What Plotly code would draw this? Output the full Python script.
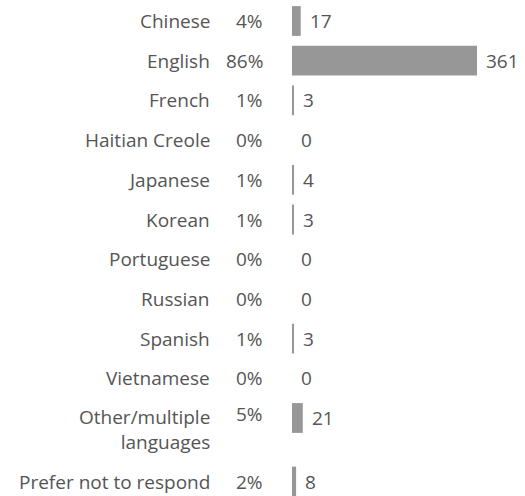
import plotly.graph_objects as go

# Survey responses by language
languages = [
    "Chinese", "English", "French", "Haitian Creole", "Japanese", "Korean",
    "Portuguese", "Russian", "Spanish", "Vietnamese",
    "Other/multiple<br>languages", "Prefer not to respond",
]
counts = [17, 361, 3, 0, 4, 3, 0, 0, 3, 0, 21, 8]
percents = ["4%", "86%", "1%", "0%", "1%", "1%", "0%", "0%", "1%", "0%", "5%", "2%"]

TEXT_COLOR = "#555555"
BAR_COLOR = "#979797"
FONT = "Open Sans"
FONT_SIZE = 19

# row centres: a two-line label pushes the following row further down
rows = []
pos = 0.0
for lang in languages:
    rows.append(pos)
    pos += 1.6 if "<br>" in lang else 1.0

fig = go.Figure(
    go.Bar(
        x=counts,
        y=rows,
        orientation="h",
        marker=dict(color=BAR_COLOR, line=dict(width=0)),
        width=0.75,
        hoverinfo="skip",
    )
)

annotations = []
for y, lang, pct, n in zip(rows, languages, percents, counts):
    # category name, right-aligned
    annotations.append(dict(
        x=0, xref="paper", y=y, yref="y", text=lang, showarrow=False,
        xanchor="right", yanchor="middle", align="right", xshift=-80,
        yshift=-12 if "<br>" in lang else 0,
        font=dict(family=FONT, size=FONT_SIZE, color=TEXT_COLOR),
    ))
    # share of respondents
    annotations.append(dict(
        x=0, xref="paper", y=y, yref="y", text=pct, showarrow=False,
        xanchor="right", yanchor="middle", xshift=-27,
        yshift=4 if "<br>" in lang else 0,
        font=dict(family=FONT, size=FONT_SIZE, color=TEXT_COLOR),
    ))
    # respondent count at the end of the bar
    annotations.append(dict(
        x=n, xref="x", y=y, yref="y", text=str(n), showarrow=False,
        xanchor="left", yanchor="middle", xshift=7,
        font=dict(family=FONT, size=FONT_SIZE, color=TEXT_COLOR),
    ))

fig.update_layout(
    width=525,
    height=496,
    margin=dict(l=292, r=48, t=0, b=0),
    paper_bgcolor="white",
    plot_bgcolor="white",
    showlegend=False,
    annotations=annotations,
    xaxis=dict(range=[0, 361], visible=False, fixedrange=True),
    yaxis=dict(range=[11.965, -0.529], visible=False, fixedrange=True),
)

fig.write_html("out.html", config={"displayModeBar": False})
